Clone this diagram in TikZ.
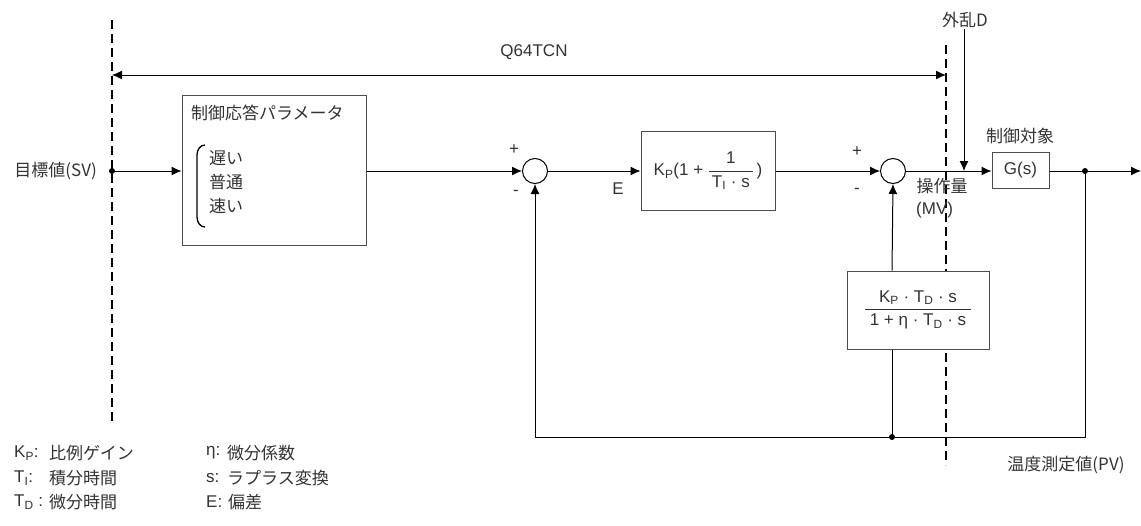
\documentclass[tikz,border=0pt]{standalone}
\usepackage{amsmath}
\usepackage{fontspec}
\setmainfont{Liberation Sans}
\newfontfamily\jp{Noto Sans CJK JP}
\usetikzlibrary{arrows.meta,positioning}

\begin{document}
\begin{tikzpicture}[x=1pt,y=-1pt,
    font=\fontsize{17}{20}\selectfont, text=black!80,
    blk/.style={draw=black!70, line width=1pt, fill=white},
    sumc/.style={circle, draw, line width=1pt, minimum size=25pt, inner sep=0pt},
    sig/.style={-{Latex[length=10pt,width=9pt]}, line width=1pt},
    bound/.style={dash pattern=on 9pt off 5pt, line width=1.8pt},
    dot/.style={circle, fill, inner sep=0pt, minimum size=6pt},
    lbl/.style={inner sep=1pt}]
  \useasboundingbox (0,0) rectangle (1141,525);

  % Q64TCN boundary
  \draw[bound] (112,20) -- (112,425);
  \draw[bound] (946,45) -- (946,465);
  \coordinate (qleft) at (112,75);
  \coordinate (qright) at (946,75);
  \draw[{Latex[length=10pt,width=9pt]}-{Latex[length=10pt,width=9pt]}, line width=1pt] (qleft) -- (qright);
  \node[lbl] (q64) at (534,52) {Q64TCN};

  % Set value input and response parameter block
  \node[dot] (sv) at (112,171) {};
  \node[lbl, anchor=east] (svlbl) at (98,171) {\jp 目標値(SV)};
  \node[blk, minimum width=184pt, minimum height=150pt] (par) at (274,170) {};
  \node[lbl, anchor=west] (partitle) at (190,113) {\jp 制御応答パラメータ};
  \draw[line width=1.3pt] (205,145) to[out=180,in=90] (197,155) -- (197,217) to[out=-90,in=180] (205,227);
  \node[lbl, anchor=west] (slow) at (208,158) {\jp 遅い};
  \node[lbl, anchor=west] (normal) at (208,182) {\jp 普通};
  \node[lbl, anchor=west] (fast) at (208,206) {\jp 速い};
  \draw[sig] (sv) -- (sv -| par.west);

  % First summing point and PI block
  \node[sumc] (sum1) at (535,171) {};
  \node[lbl] at (514,150) {+};
  \node[lbl] at (516,193) {-};
  \node[blk, minimum width=134pt, minimum height=79pt] (pi) at (708,171)
    {K\textsubscript{P}(1 + $\dfrac{\text{1}}{\text{\,T\textsubscript{I} · s\,}}$\,)};
  \node[lbl] (elbl) at (618,189) {E};
  \draw[sig] (par.east |- sum1) -- (sum1.west);
  \draw[sig] (sum1.east) -- (sum1 -| pi.west);

  % Second summing point, plant and output
  \node[sumc] (sum2) at (893,171) {};
  \node[lbl] at (857,152) {+};
  \node[lbl] at (857,191) {-};
  \node[blk, minimum width=57pt, minimum height=36pt] (plant) at (1020.5,170) {G(s)};
  \node[lbl] (plantlbl) at (1020,136) {\jp 制御対象};
  \node[lbl] (mvlbl) at (942,186) {\jp 操作量};
  \node[lbl, anchor=west] (mv) at (915,210) {(MV)};
  \node[dot] (out) at (1085,171) {};
  \coordinate (outend) at (1141,171);
  \draw[sig] (pi.east |- sum2) -- (sum2.west);
  \draw[sig] (sum2.east) -- (sum2 -| plant.west);
  \draw[line width=1pt] (plant.east |- out) -- (out);
  \draw[sig] (out) -- (outend);

  % Disturbance
  \node[lbl] (dist) at (965,20) {\jp 外乱D};
  \coordinate (dhit) at (964,171);
  \draw[sig] (dist.south -| dhit) -- (dhit);

  % Derivative block and feedback
  \node[blk, minimum width=142pt, minimum height=78pt] (dblk) at (918,310)
    {$\dfrac{\text{\;K\textsubscript{P} · T\textsubscript{D} · s\;}}{\text{\;1 + η · T\textsubscript{D} · s\;}}$};
  \node[dot] (fb) at (892,437) {};
  \draw[line width=1pt] (out) -- (out |- fb) -- (fb);
  \draw[sig] (fb) -- (sum1 |- fb) -- (sum1.south);
  \draw[line width=1pt] (fb) -- (fb |- dblk.south);
  \draw[sig] (fb |- dblk.north) -- (sum2.south);
  \node[lbl] (pvlbl) at (1066,465) {\jp 温度測定値(PV)};

  % Legend
  \node[lbl, anchor=west] (kp) at (13,453) {K\textsubscript{P}:};
  \node[lbl, anchor=west] (kpv) at (48,453) {\jp 比例ゲイン};
  \node[lbl, anchor=west] (ti) at (13,478) {T\textsubscript{I}:};
  \node[lbl, anchor=west] (tiv) at (48,478) {\jp 積分時間};
  \node[lbl, anchor=west] (td) at (13,502) {T\textsubscript{D} :};
  \node[lbl, anchor=west] (tdv) at (48,502) {\jp 微分時間};
  \node[lbl, anchor=west] (eta) at (205,453) {η:};
  \node[lbl, anchor=west] (etav) at (226,453) {\jp 微分係数};
  \node[lbl, anchor=west] (sl) at (205,478) {s:};
  \node[lbl, anchor=west] (slv) at (226,478) {\jp ラプラス変換};
  \node[lbl, anchor=west] (el) at (205,502) {E:};
  \node[lbl, anchor=west] (elv) at (227,502) {\jp 偏差};
\end{tikzpicture}
\end{document}
